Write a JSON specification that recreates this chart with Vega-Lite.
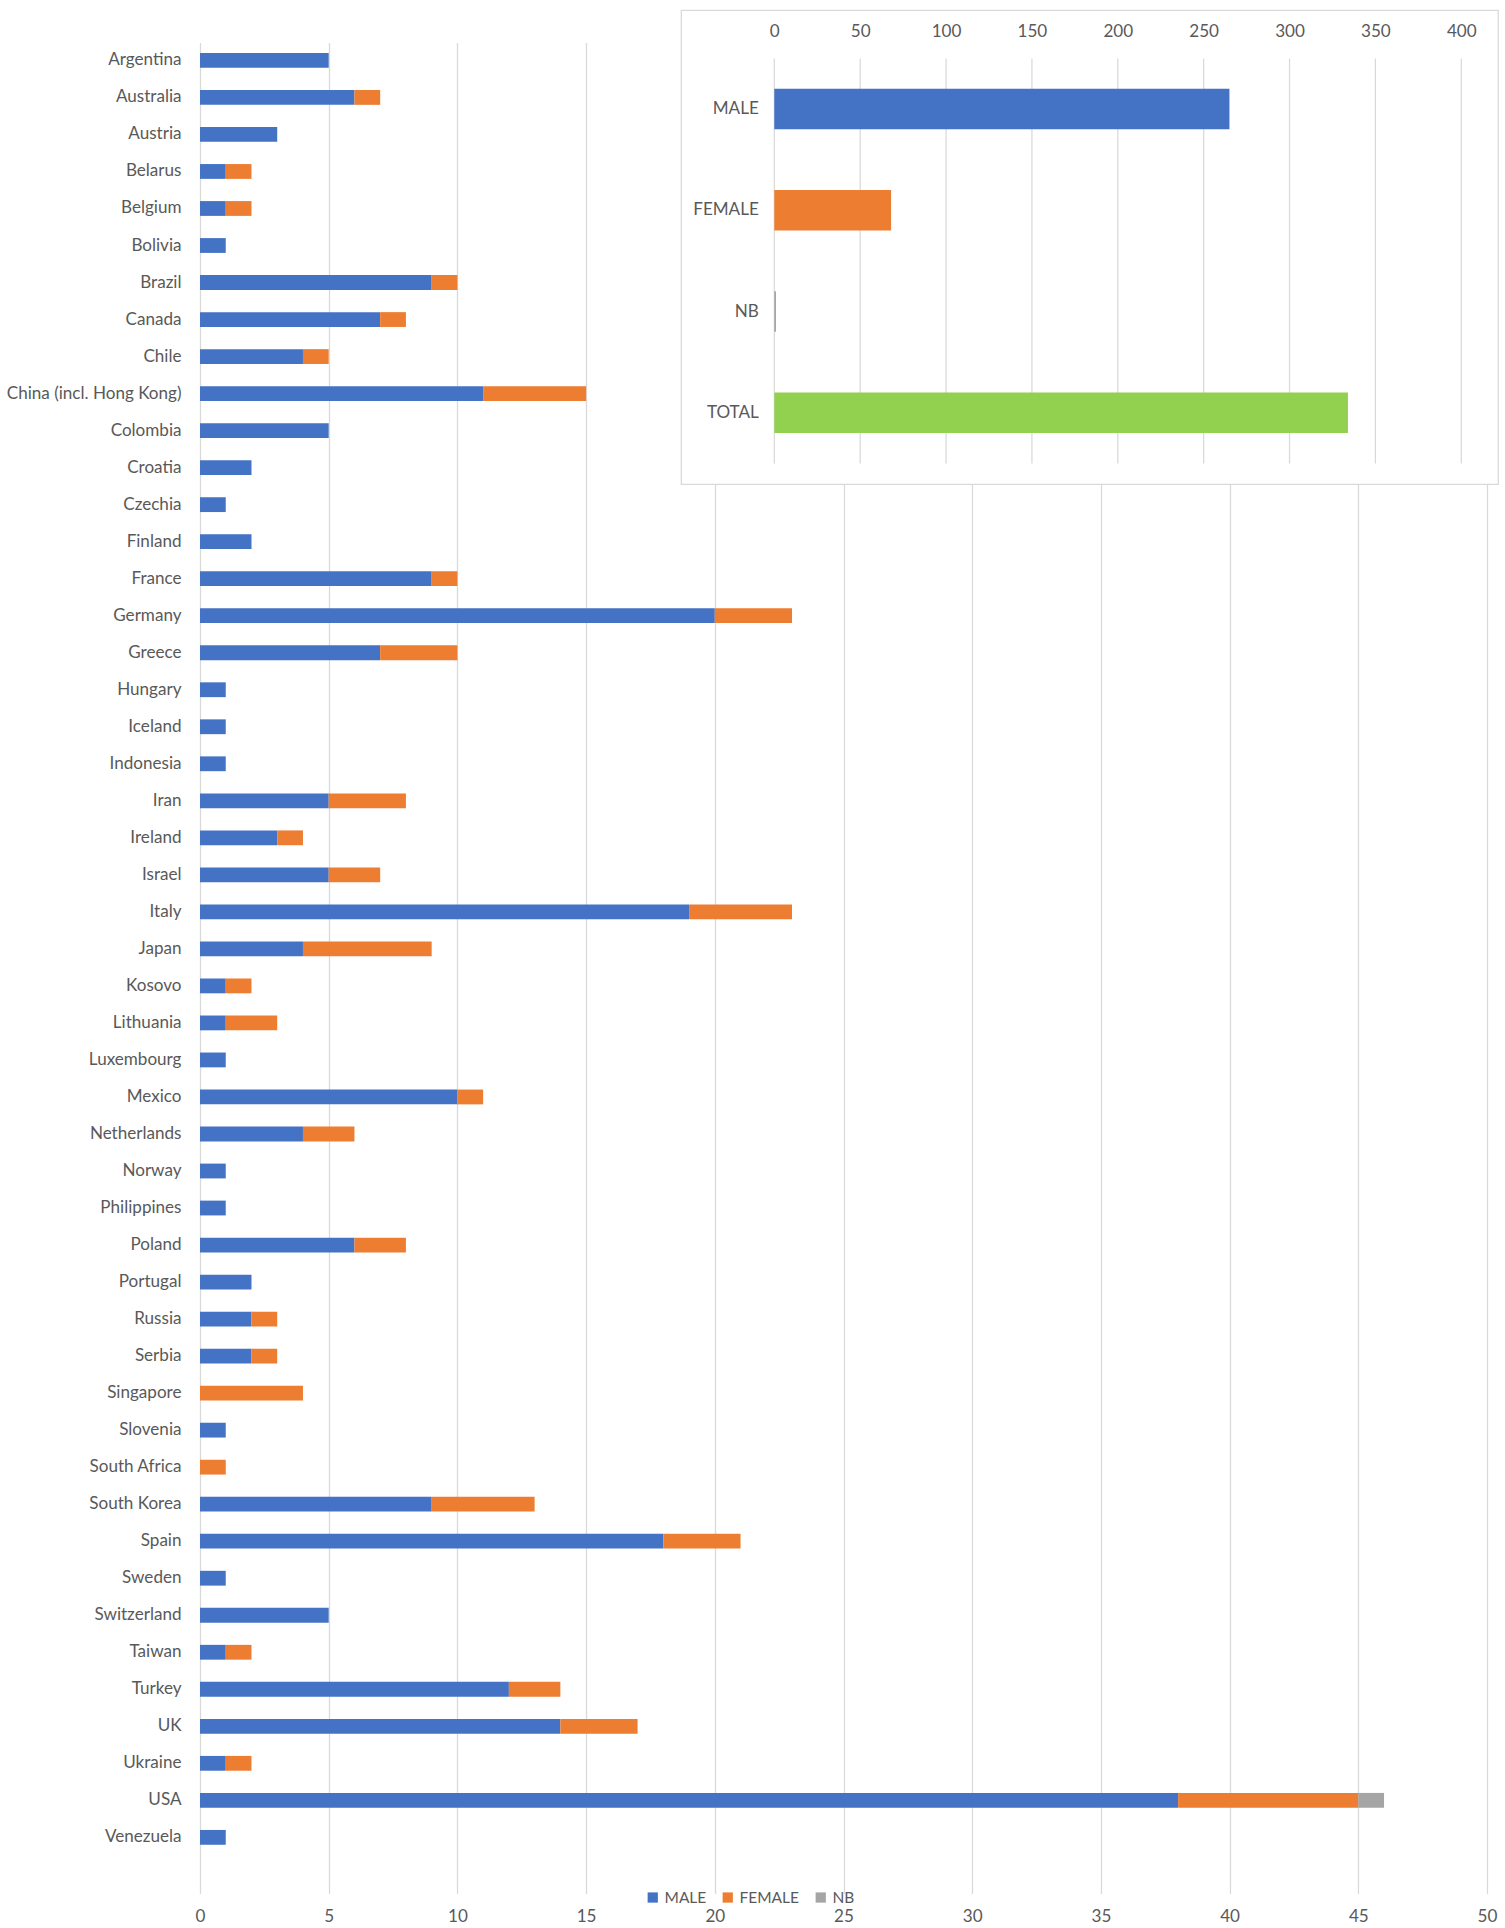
{
  "$schema": "https://vega.github.io/schema/vega-lite/v6.json",
  "background": "white",
  "padding": {"left": 6, "top": 9.4, "right": 0, "bottom": 0},
  "width": 1287,
  "height": 1851,
  "config": {
    "view": {"stroke": null},
    "font": "Lato",
    "axis": {"labelFont": "Lato", "labelFontSize": 17.1, "labelColor": "#595959", "gridColor": "#D9D9D9", "gridWidth": 1.25, "domain": false, "ticks": false, "tickSize": 0, "title": null, "labelFlush": false, "labelOverlap": false},
    "legend": {"labelFont": "Lato", "labelFontSize": 15.5, "labelColor": "#595959"}
  },
  "datasets": {
    "countries": [
      {"country": "Argentina", "gender": "MALE", "k": 1, "count": 5},
      {"country": "Australia", "gender": "MALE", "k": 1, "count": 6},
      {"country": "Australia", "gender": "FEMALE", "k": 2, "count": 1},
      {"country": "Austria", "gender": "MALE", "k": 1, "count": 3},
      {"country": "Belarus", "gender": "MALE", "k": 1, "count": 1},
      {"country": "Belarus", "gender": "FEMALE", "k": 2, "count": 1},
      {"country": "Belgium", "gender": "MALE", "k": 1, "count": 1},
      {"country": "Belgium", "gender": "FEMALE", "k": 2, "count": 1},
      {"country": "Bolivia", "gender": "MALE", "k": 1, "count": 1},
      {"country": "Brazil", "gender": "MALE", "k": 1, "count": 9},
      {"country": "Brazil", "gender": "FEMALE", "k": 2, "count": 1},
      {"country": "Canada", "gender": "MALE", "k": 1, "count": 7},
      {"country": "Canada", "gender": "FEMALE", "k": 2, "count": 1},
      {"country": "Chile", "gender": "MALE", "k": 1, "count": 4},
      {"country": "Chile", "gender": "FEMALE", "k": 2, "count": 1},
      {"country": "China (incl. Hong Kong)", "gender": "MALE", "k": 1, "count": 11},
      {"country": "China (incl. Hong Kong)", "gender": "FEMALE", "k": 2, "count": 4},
      {"country": "Colombia", "gender": "MALE", "k": 1, "count": 5},
      {"country": "Croatia", "gender": "MALE", "k": 1, "count": 2},
      {"country": "Czechia", "gender": "MALE", "k": 1, "count": 1},
      {"country": "Finland", "gender": "MALE", "k": 1, "count": 2},
      {"country": "France", "gender": "MALE", "k": 1, "count": 9},
      {"country": "France", "gender": "FEMALE", "k": 2, "count": 1},
      {"country": "Germany", "gender": "MALE", "k": 1, "count": 20},
      {"country": "Germany", "gender": "FEMALE", "k": 2, "count": 3},
      {"country": "Greece", "gender": "MALE", "k": 1, "count": 7},
      {"country": "Greece", "gender": "FEMALE", "k": 2, "count": 3},
      {"country": "Hungary", "gender": "MALE", "k": 1, "count": 1},
      {"country": "Iceland", "gender": "MALE", "k": 1, "count": 1},
      {"country": "Indonesia", "gender": "MALE", "k": 1, "count": 1},
      {"country": "Iran", "gender": "MALE", "k": 1, "count": 5},
      {"country": "Iran", "gender": "FEMALE", "k": 2, "count": 3},
      {"country": "Ireland", "gender": "MALE", "k": 1, "count": 3},
      {"country": "Ireland", "gender": "FEMALE", "k": 2, "count": 1},
      {"country": "Israel", "gender": "MALE", "k": 1, "count": 5},
      {"country": "Israel", "gender": "FEMALE", "k": 2, "count": 2},
      {"country": "Italy", "gender": "MALE", "k": 1, "count": 19},
      {"country": "Italy", "gender": "FEMALE", "k": 2, "count": 4},
      {"country": "Japan", "gender": "MALE", "k": 1, "count": 4},
      {"country": "Japan", "gender": "FEMALE", "k": 2, "count": 5},
      {"country": "Kosovo", "gender": "MALE", "k": 1, "count": 1},
      {"country": "Kosovo", "gender": "FEMALE", "k": 2, "count": 1},
      {"country": "Lithuania", "gender": "MALE", "k": 1, "count": 1},
      {"country": "Lithuania", "gender": "FEMALE", "k": 2, "count": 2},
      {"country": "Luxembourg", "gender": "MALE", "k": 1, "count": 1},
      {"country": "Mexico", "gender": "MALE", "k": 1, "count": 10},
      {"country": "Mexico", "gender": "FEMALE", "k": 2, "count": 1},
      {"country": "Netherlands", "gender": "MALE", "k": 1, "count": 4},
      {"country": "Netherlands", "gender": "FEMALE", "k": 2, "count": 2},
      {"country": "Norway", "gender": "MALE", "k": 1, "count": 1},
      {"country": "Philippines", "gender": "MALE", "k": 1, "count": 1},
      {"country": "Poland", "gender": "MALE", "k": 1, "count": 6},
      {"country": "Poland", "gender": "FEMALE", "k": 2, "count": 2},
      {"country": "Portugal", "gender": "MALE", "k": 1, "count": 2},
      {"country": "Russia", "gender": "MALE", "k": 1, "count": 2},
      {"country": "Russia", "gender": "FEMALE", "k": 2, "count": 1},
      {"country": "Serbia", "gender": "MALE", "k": 1, "count": 2},
      {"country": "Serbia", "gender": "FEMALE", "k": 2, "count": 1},
      {"country": "Singapore", "gender": "FEMALE", "k": 2, "count": 4},
      {"country": "Slovenia", "gender": "MALE", "k": 1, "count": 1},
      {"country": "South Africa", "gender": "FEMALE", "k": 2, "count": 1},
      {"country": "South Korea", "gender": "MALE", "k": 1, "count": 9},
      {"country": "South Korea", "gender": "FEMALE", "k": 2, "count": 4},
      {"country": "Spain", "gender": "MALE", "k": 1, "count": 18},
      {"country": "Spain", "gender": "FEMALE", "k": 2, "count": 3},
      {"country": "Sweden", "gender": "MALE", "k": 1, "count": 1},
      {"country": "Switzerland", "gender": "MALE", "k": 1, "count": 5},
      {"country": "Taiwan", "gender": "MALE", "k": 1, "count": 1},
      {"country": "Taiwan", "gender": "FEMALE", "k": 2, "count": 1},
      {"country": "Turkey", "gender": "MALE", "k": 1, "count": 12},
      {"country": "Turkey", "gender": "FEMALE", "k": 2, "count": 2},
      {"country": "UK", "gender": "MALE", "k": 1, "count": 14},
      {"country": "UK", "gender": "FEMALE", "k": 2, "count": 3},
      {"country": "Ukraine", "gender": "MALE", "k": 1, "count": 1},
      {"country": "Ukraine", "gender": "FEMALE", "k": 2, "count": 1},
      {"country": "USA", "gender": "MALE", "k": 1, "count": 38},
      {"country": "USA", "gender": "FEMALE", "k": 2, "count": 7},
      {"country": "USA", "gender": "NB", "k": 3, "count": 1},
      {"country": "Venezuela", "gender": "MALE", "k": 1, "count": 1}
    ],
    "totals": [
      {"category": "MALE", "count": 265},
      {"category": "FEMALE", "count": 68},
      {"category": "NB", "count": 1},
      {"category": "TOTAL", "count": 334}
    ],
    "insetTicks": [
      {"tick": 0}, {"tick": 50}, {"tick": 100}, {"tick": 150}, {"tick": 200},
      {"tick": 250}, {"tick": 300}, {"tick": 350}, {"tick": 400}
    ],
    "frame": [{"from": 0, "to": 1}]
  },
  "resolve": {"scale": {"x": "independent", "y": "independent", "color": "independent"}, "axis": {"x": "independent", "y": "independent"}},
  "layer": [
    {
      "data": {"name": "countries"},
      "mark": {"type": "bar"},
      "encoding": {
        "y": {"field": "country", "type": "nominal", "sort": null,
          "scale": {"paddingInner": 0.6, "paddingOuter": 0.8, "align": 0.179},
          "axis": {"orient": "left", "labelPadding": 19, "grid": false}},
        "x": {"field": "count", "type": "quantitative", "stack": "zero",
          "scale": {"domain": [0, 50], "nice": false},
          "axis": {"orient": "bottom", "values": [0, 5, 10, 15, 20, 25, 30, 35, 40, 45, 50], "grid": true, "labelPadding": 14}},
        "color": {"field": "gender", "type": "nominal",
          "scale": {"domain": ["MALE", "FEMALE", "NB"], "range": ["#4472C4", "#ED7D31", "#A5A5A5"]},
          "legend": {"orient": "none", "direction": "horizontal", "title": null, "legendX": 445, "legendY": 1847,
            "symbolType": "square", "symbolSize": 105, "symbolStrokeWidth": 0, "columnPadding": 13, "labelOffset": 4}},
        "order": {"field": "k", "type": "quantitative"}
      }
    },
    {
      "resolve": {"scale": {"x": "independent", "y": "independent", "color": "independent"}, "axis": {"x": "independent", "y": "independent"}},
      "layer": [
        {
          "data": {"name": "frame"},
          "mark": {"type": "rect", "fill": "white", "stroke": "#D9D9D9", "strokeWidth": 1.25},
          "encoding": {
            "x": {"field": "from", "type": "quantitative", "scale": {"domain": [0, 1], "range": [481.3, 1298.3], "nice": false}, "axis": null},
            "x2": {"field": "to"},
            "y": {"field": "from", "type": "quantitative", "scale": {"domain": [0, 1], "range": [-32, 442], "nice": false}, "axis": null},
            "y2": {"field": "to"}
          }
        },
        {
          "data": {"name": "insetTicks"},
          "mark": {"type": "rule", "color": "#D9D9D9", "strokeWidth": 1.25},
          "encoding": {
            "x": {"field": "tick", "type": "quantitative", "scale": {"domain": [0, 400], "range": [574.3, 1261.3], "nice": false}, "axis": null},
            "y": {"datum": 0, "type": "quantitative", "scale": {"domain": [0, 1], "range": [16, 421], "nice": false}, "axis": null},
            "y2": {"datum": 1}
          }
        },
        {
          "data": {"name": "totals"},
          "mark": {"type": "bar"},
          "encoding": {
            "y": {"field": "category", "type": "nominal", "sort": null,
              "scale": {"domain": ["MALE", "FEMALE", "NB", "TOTAL"], "range": [16, 421], "paddingInner": 0.6, "paddingOuter": 0.3},
              "axis": {"orient": "left", "offset": -574.3, "labelPadding": 16, "grid": false, "zindex": 1}},
            "x": {"field": "count", "type": "quantitative",
              "scale": {"domain": [0, 400], "range": [574.3, 1261.3], "nice": false},
              "axis": {"orient": "top", "values": [0, 50, 100, 150, 200, 250, 300, 350, 400], "grid": false, "labelPadding": 2, "zindex": 1}},
            "color": {"field": "category", "type": "nominal",
              "scale": {"domain": ["MALE", "FEMALE", "NB", "TOTAL"], "range": ["#4472C4", "#ED7D31", "#A5A5A5", "#92D050"]},
              "legend": null}
          }
        }
      ]
    }
  ]
}
